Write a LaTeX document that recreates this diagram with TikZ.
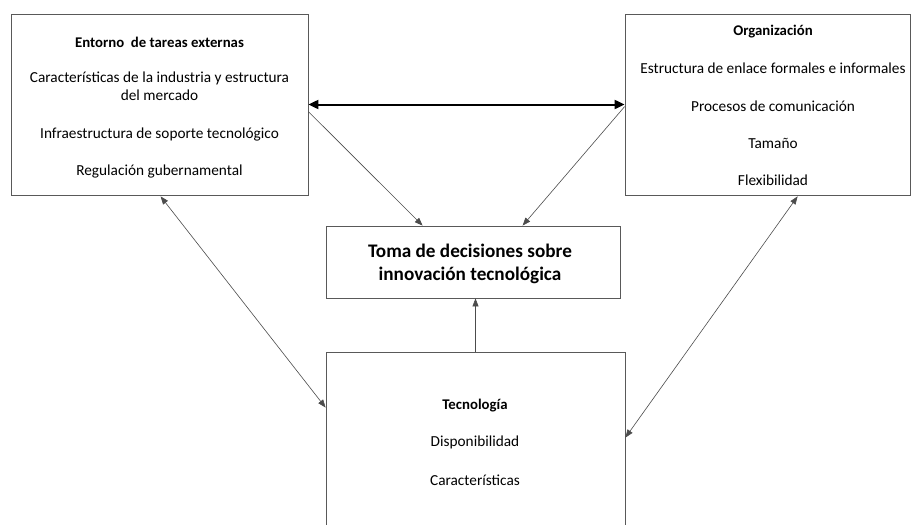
\documentclass[tikz,border=0pt]{standalone}
\usepackage{fontspec}
\setmainfont{Carlito}
\usetikzlibrary{arrows.meta,calc}
\begin{document}
\begin{tikzpicture}[x=1pt,y=-1pt,
  box/.style={draw=black!65,line width=0.8pt,rectangle,inner sep=0pt},
  txt/.style={inner sep=0pt,font=\fontsize{15.3}{18}\selectfont,align=center},
  ttl/.style={txt,font=\fontsize{14.8}{18}\selectfont\bfseries},
  big/.style={inner sep=0pt,font=\fontsize{19.2}{22.5}\selectfont\bfseries,align=center},
  conn/.style={draw=black!70,line width=0.6pt,-{Triangle[length=8pt,width=6pt]}},
  dconn/.style={draw=black!70,line width=0.6pt,{Triangle[length=8pt,width=6pt]}-{Triangle[length=8pt,width=6pt]}},
  thick/.style={draw=black,line width=2pt,{Triangle[length=10pt,width=9pt]}-{Triangle[length=10pt,width=9pt]}}]
\useasboundingbox (0,0) rectangle (911,525);
\fill[white] (0,0) rectangle (911,525);
% boxes
\node[box,minimum width=297pt,minimum height=181pt] (L) at (159.5,104.5) {};
\node[box,minimum width=285pt,minimum height=181pt] (O) at (767.5,104.5) {};
\node[box,minimum width=294pt,minimum height=72pt] (M) at (473,262) {};
\node[box,minimum width=299pt,minimum height=180pt] (T) at (475.5,442) {};
% texts left
\node[ttl] (l1) at (159.5,42) {Entorno\ \ de tareas externas};
\node[txt] (l2) at (159.5,86) {Características de la industria y estructura\\del mercado};
\node[txt] (l3) at (159.5,135) {Infraestructura de soporte tecnológico};
\node[txt] (l4) at (159.5,172) {Regulación gubernamental};
% texts right
\node[ttl] (o1) at (773,32) {Organización};
\node[txt] (o2) at (773,68) {Estructura de enlace formales e informales};
\node[txt] (o3) at (773,106) {Procesos de comunicación};
\node[txt] (o4) at (773,143) {Tamaño};
\node[txt] (o5) at (773,180) {Flexibilidad};
% middle
\node[big] (m1) at (470,264) {Toma de decisiones sobre\\innovación tecnológica};
% bottom
\node[ttl] (t1) at (475,406) {Tecnología};
\node[txt] (t2) at (475,442) {Disponibilidad};
\node[txt] (t3) at (475,480) {Características};
% connectors
\draw[thick] (L.east) -- (O.west);
\coordinate (a1) at ($(L.north east)+(0,98)$);
\coordinate (a2) at ($(M.north west)+(97,0)$);
\draw[conn] (a1) -- (a2);
\coordinate (b1) at ($(O.north west)+(0,93)$);
\coordinate (b2) at ($(M.north west)+(197,0)$);
\draw[conn] (b1) -- (b2);
\draw[conn] (T.north) -- (M.south -| T.north);
\coordinate (c1) at ($(L.south west)+(150,1)$);
\coordinate (c2) at ($(T.north west)+(0,56)$);
\draw[dconn] (c1) -- (c2);
\coordinate (d1) at ($(O.south west)+(173,1)$);
\coordinate (d2) at ($(T.north east)+(0,86)$);
\draw[dconn] (d1) -- (d2);
\end{tikzpicture}
\end{document}
